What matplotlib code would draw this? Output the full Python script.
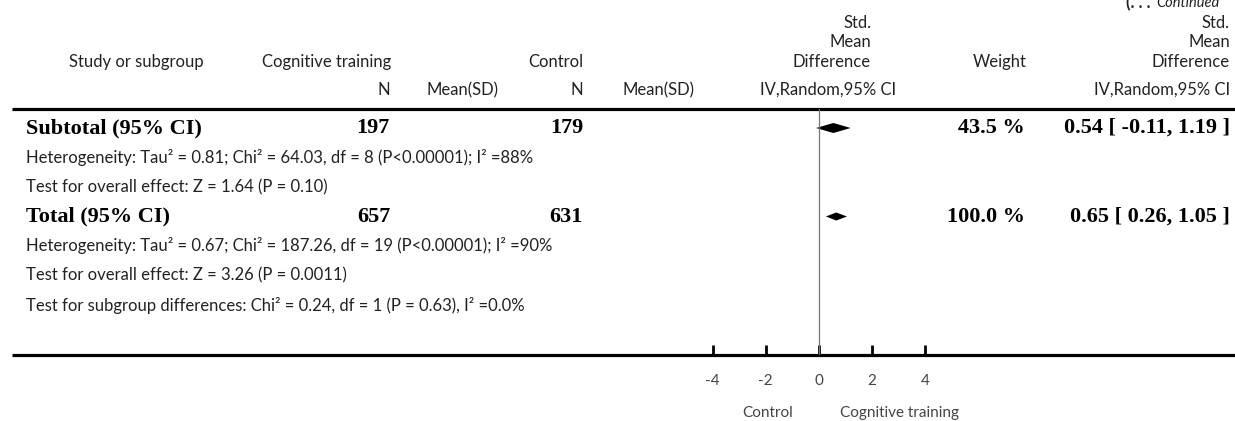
import matplotlib
matplotlib.use("Agg")
import matplotlib.pyplot as plt

# pooled rows (effect size, 95% CI)
pooled_labels = ["Subtotal (95% CI)", "Total (95% CI)"]
n_cog = [197, 657]
n_ctrl = [179, 631]
weights = ["43.5 %", "100.0 %"]
smd = [0.54, 0.65]
ci_low = [-0.11, 0.26]
ci_high = [1.19, 1.05]

het_lines = [
    "Heterogeneity: Tau\u00b2 = 0.81; Chi\u00b2 = 64.03, df = 8 (P<0.00001); I\u00b2 =88%",
    "Test for overall effect: Z = 1.64 (P = 0.10)",
]
het_lines_total = [
    "Heterogeneity: Tau\u00b2 = 0.67; Chi\u00b2 = 187.26, df = 19 (P<0.00001); I\u00b2 =90%",
    "Test for overall effect: Z = 3.26 (P = 0.0011)",
    "Test for subgroup differences: Chi\u00b2 = 0.24, df = 1 (P = 0.63), I\u00b2 =0.0%",
]
xticks = [-4, -2, 0, 2, 4]
favours = ["Control", "Cognitive training"]

W, H = 1235, 421
fig = plt.figure(figsize=(W / 100, H / 100), dpi=100)
bg = fig.add_axes([0, 0, 1, 1])
bg.set_xlim(0, W)
bg.set_ylim(H, 0)
bg.axis("off")

sans = "Lato"
serif = "Liberation Serif"
fs = 12
tc = "#222222"
kw = dict(family=sans, fontsize=fs, color=tc, va="center")

# continued marker (clipped at top, as in the source page)
bg.text(1150, 3, "(. . .", family=sans, fontsize=fs, fontweight="bold", ha="right", va="center", color=tc)
bg.text(1156, 3, "Continued", family=sans, fontsize=fs - 1.5, style="italic", ha="left", va="center", color=tc)

# header
bg.text(136, 62, "Study or subgroup", ha="center", **kw)
bg.text(391, 62, "Cognitive training", ha="right", **kw)
bg.text(583, 62, "Control", ha="right", **kw)
bg.text(1027, 62, "Weight", ha="right", **kw)
for xr in (871, 1230):
    bg.text(xr, 23, "Std.", ha="right", **kw)
    bg.text(xr, 42, "Mean", ha="right", **kw)
    bg.text(xr, 62, "Difference", ha="right", **kw)
bg.text(390, 90, "N", ha="right", **kw)
bg.text(498, 90, "Mean(SD)", ha="right", **kw)
bg.text(583, 90, "N", ha="right", **kw)
bg.text(695, 90, "Mean(SD)", ha="right", **kw)
bg.text(896, 90, "IV,Random,95% CI", ha="right", **kw)
bg.text(1230, 90, "IV,Random,95% CI", ha="right", **kw)

bg.plot([12, W], [109, 109], color="black", lw=2.3, solid_capstyle="butt")
bg.plot([12, W], [355, 355], color="black", lw=2.3, solid_capstyle="butt")

# rows
row_h = 29.5
y0 = 128
rows_y = [y0, y0 + 3 * row_h]
bkw = dict(family=serif, fontsize=16, fontweight="bold", color="black", va="center")
for i, yy in enumerate(rows_y):
    bg.text(26, yy, pooled_labels[i], ha="left", **bkw)
    bg.text(390, yy, str(n_cog[i]), ha="right", **bkw)
    bg.text(583, yy, str(n_ctrl[i]), ha="right", **bkw)
    bg.text(1025, yy, weights[i], ha="right", **bkw)
    bg.text(1230, yy, f"{smd[i]:.2f} [ {ci_low[i]:.2f}, {ci_high[i]:.2f} ]", ha="right", **bkw)

for k, s in enumerate(het_lines):
    bg.text(26, y0 + (k + 1) * row_h, s, ha="left", **kw)
for k, s in enumerate(het_lines_total):
    bg.text(26, y0 + (k + 4) * row_h, s, ha="left", **kw)

# forest panel
x0_px, unit = 819, 26.6
left_px = x0_px + xticks[0] * unit
right_px = x0_px + xticks[-1] * unit
ax = fig.add_axes([left_px / W, 1 - 355 / H, (right_px - left_px) / W, (355 - 109) / H])
ax.set_xlim(xticks[0], xticks[-1])
ax.set_ylim(355, 109)
ax.patch.set_visible(False)
for sp in ax.spines.values():
    sp.set_visible(False)
ax.set_yticks([])
ax.set_xticks(xticks)
ax.set_xticklabels([str(t) for t in xticks], family=sans, fontsize=11)
ax.tick_params(axis="x", direction="in", length=7, width=2, pad=14, labelcolor="#444444")
ax.axvline(0, color="#777777", lw=0.9)

half_h = [5, 4]
for i, yy in enumerate(rows_y):
    ax.fill([ci_low[i], smd[i], ci_high[i], smd[i]],
            [yy, yy - half_h[i], yy, yy + half_h[i]], color="black", lw=0)

bg.text(768, 413, favours[0], ha="center", family=sans, fontsize=11, color="#444444", va="center")
bg.text(900, 413, favours[1], ha="center", family=sans, fontsize=11, color="#444444", va="center")

fig.savefig("out.png", dpi=100)
